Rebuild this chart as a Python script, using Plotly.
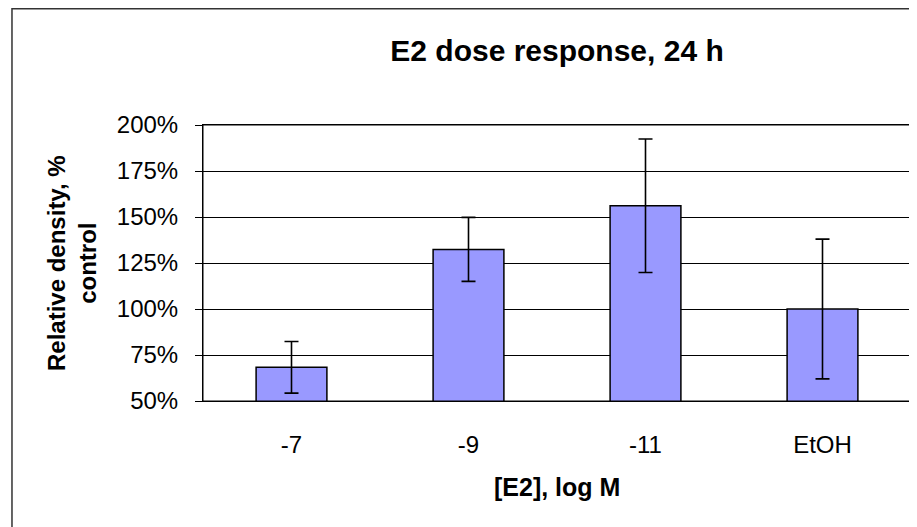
import plotly.graph_objects as go

# E2 dose response, 24 h
doses = ["-7", "-9", "-11", "EtOH"]
rel_density = [68.3, 132.4, 156.1, 100.0]
err = [14.0, 17.4, 36.3, 38.0]
y_ticks = [50, 75, 100, 125, 150, 175, 200]
y_tick_text = [f"{v}%" for v in y_ticks]

FONT = "Liberation Sans, Arial, sans-serif"

fig = go.Figure(data=[
    go.Bar(
        x=doses, y=rel_density, width=0.4,
        marker=dict(color="#9999FF", line=dict(color="black", width=1.5)),
        error_y=dict(type="data", array=err, visible=True,
                     color="black", thickness=1.6, width=7),
    )
])

# page has an 8px body margin, so the figure is 8px smaller than the window
fig.update_layout(
    width=909, height=519,
    paper_bgcolor="white", plot_bgcolor="white",
    margin=dict(l=195, r=6, t=117, b=126),
    font=dict(family=FONT, size=24, color="black"),
    showlegend=False,
    title=dict(text="<b>E2 dose response, 24 h</b>", x=0.604, xanchor="center",
               y=0.919, yanchor="middle", font=dict(size=30)),
    xaxis=dict(
        showline=True, linecolor="black", linewidth=1, mirror=True,
        ticks="", showgrid=False, ticklabelstandoff=22,
    ),
    yaxis=dict(
        range=[50, 200], tickmode="array", tickvals=y_ticks, ticktext=y_tick_text,
        showline=True, linecolor="black", linewidth=1, mirror=True,
        ticks="outside", ticklen=7, tickcolor="black",
        showgrid=True, gridcolor="black", gridwidth=1,
        ticklabelstandoff=12, zeroline=False,
    ),
    annotations=[
        dict(text="<b>Relative density, %<br>control</b>", textangle=-90,
             xref="paper", yref="paper", x=-0.185, y=0.5,
             xanchor="center", yanchor="middle", showarrow=False,
             font=dict(size=24)),
        dict(text="<b>[E2], log M</b>",
             xref="paper", yref="paper", x=0.5, y=-0.312,
             xanchor="center", yanchor="middle", showarrow=False,
             font=dict(size=25)),
    ],
    shapes=[
        # outer chart-area frame (right/bottom edges fall off the page)
        dict(type="rect", xref="paper", yref="paper",
             x0=-0.2698, x1=1.03, y0=-0.5, y1=1.421,
             line=dict(color="#333333", width=1.5)),
        # plot-area frame
        dict(type="rect", xref="paper", yref="paper",
             x0=0, x1=1, y0=0, y1=1,
             line=dict(color="black", width=1)),
    ],
)

fig.write_html("out.html")
